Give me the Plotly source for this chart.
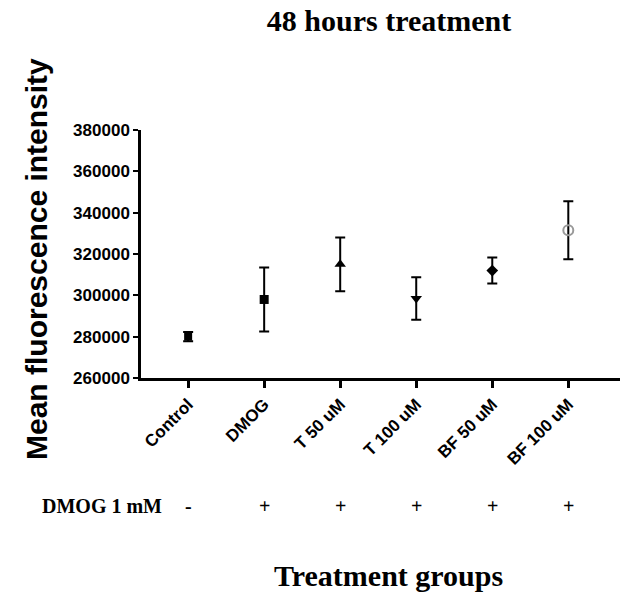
import plotly.graph_objects as go

categories = ["Control", "DMOG", "T 50 uM", "T 100 uM", "BF 50 uM", "BF 100 uM"]
means = [280000, 298000, 315000, 298500, 312000, 331500]
errors = [2200, 15500, 13000, 10300, 6300, 14000]
dmog_flags = ["-", "+", "+", "+", "+", "+"]
symbols = ["square", "square", "triangle-up", "triangle-down", "diamond", "circle-open"]
colors = ["black", "black", "black", "black", "black", "#999999"]
sizes = [8, 9, 10, 10, 9, 10]

fig = go.Figure()
for i, c in enumerate(categories):
    fig.add_trace(go.Scatter(
        x=[i], y=[means[i]], mode="markers",
        marker=dict(symbol=symbols[i], size=sizes[i],
                    color=colors[i], line=dict(width=2 if symbols[i] == "circle-open" else 0, color=colors[i])),
        error_y=dict(type="data", array=[errors[i]], color="black", thickness=2, width=5),
        showlegend=False))

fig.update_layout(
    width=641, height=598,
    margin=dict(l=141, r=21, t=130, b=220),
    plot_bgcolor="white", paper_bgcolor="white",
    title=dict(text="<b>48 hours treatment</b>", x=389/641, xanchor="center",
               y=1-20/598, yanchor="middle",
               font=dict(family="Liberation Serif", size=30, color="black")),
    xaxis=dict(
        tickmode="array", tickvals=list(range(len(categories))), ticktext=categories,
        range=[-0.62, 5.68], tickangle=-45, ticks="outside", ticklen=7, tickwidth=2.5,
        tickcolor="black", showline=True, linecolor="black", linewidth=2.5,
        showgrid=False, zeroline=False,
        tickfont=dict(family="Liberation Sans", size=17, color="black", weight="bold")),
    yaxis=dict(
        range=[260000, 380000], tickvals=[260000, 280000, 300000, 320000, 340000, 360000, 380000],
        tickformat="d", ticks="outside", ticklen=5, tickwidth=2, tickcolor="black",
        showline=True, linecolor="black", linewidth=2.5, showgrid=False, zeroline=False,
        tickfont=dict(family="Liberation Sans", size=17, color="black", weight="bold")),
)

# y-axis title
fig.add_annotation(text="<b>Mean fluorescence intensity</b>", xref="paper", yref="paper",
                   x=(36-141)/479, y=(378-259)/248, textangle=-90, showarrow=False,
                   xanchor="center", yanchor="middle",
                   font=dict(family="Liberation Sans", size=30, color="black"))
# x-axis title
fig.add_annotation(text="<b>Treatment groups</b>", xref="paper", yref="paper",
                   x=(388-141)/479, y=(378-575)/248, showarrow=False,
                   xanchor="center", yanchor="middle",
                   font=dict(family="Liberation Serif", size=30, color="black"))
# DMOG row
fig.add_annotation(text="<b>DMOG 1 mM</b>", xref="paper", yref="paper",
                   x=(40-141)/479, y=(378-506)/248, showarrow=False,
                   xanchor="left", yanchor="middle",
                   font=dict(family="Liberation Serif", size=20, color="black"))
for i, f in enumerate(dmog_flags):
    fig.add_annotation(text="<b>" + f + "</b>", xref="x", yref="paper",
                       x=i, y=(378-506)/248, showarrow=False,
                       xanchor="center", yanchor="middle",
                       font=dict(family="Liberation Serif", size=20, color="black"))

fig.write_html("out.html")
